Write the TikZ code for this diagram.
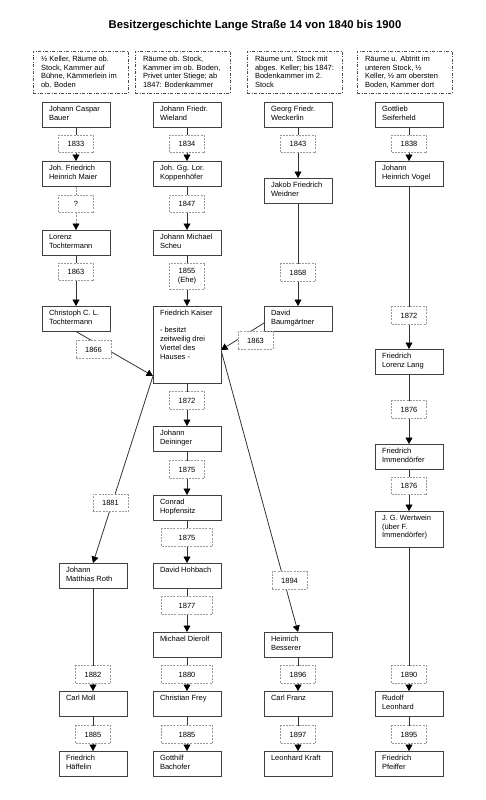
\documentclass[tikz,border=0pt]{standalone}
\usepackage{fontspec}
\setmainfont{Liberation Sans}
\usetikzlibrary{arrows.meta,calc}
\pgfdeclarelayer{bg}
\pgfsetlayers{bg,main}
\newcommand\nbtext[2]{\parbox[c][#1][t]{54pt}{\raggedright\vspace*{3.2pt}\strut#2}}
\newcommand\hdtext[1]{\parbox[c][42pt][t]{79pt}{\raggedright\vspace*{4.6pt}\strut#1}}
\tikzset{
  x=1pt, y=-1pt,
  namebox/.style={draw=black!75, line width=0.8pt, fill=white, anchor=north west,
    inner xsep=7pt, inner ysep=0pt, outer sep=0pt, font=\fontsize{7.5}{8.8}\selectfont},
  yearbox/.style={draw=black!40, line width=0.7pt, dash pattern=on 2pt off 1.2pt, fill=white,
    inner sep=0pt, minimum width=35pt, minimum height=17.5pt, align=center,
    font=\fontsize{7.5}{8.8}\selectfont},
  hdrbox/.style={draw=black!70, line width=0.7pt, dash pattern=on 3pt off 1.5pt on 1pt off 1.5pt,
    anchor=north west, inner xsep=8pt, inner ysep=0pt, outer sep=0pt,
    font=\fontsize{7.5}{8.6}\selectfont},
  conn/.style={draw=black!80, line width=0.8pt, -{Triangle[width=7pt,length=6.5pt,color=black,fill=black]}},
  dconn/.style={conn, draw=black!45, dash pattern=on 2pt off 1.2pt},
}
\begin{document}
\begin{tikzpicture}
\useasboundingbox (0,0) rectangle (486,800);
\node[font=\bfseries\fontsize{11.3}{13}\selectfont] (title) at (255,26) {Besitzergeschichte Lange Straße 14 von 1840 bis 1900};

% header boxes
\node[hdrbox] (h1) at (33,51) {\hdtext{½ Keller, Räume ob.\\Stock, Kammer auf\\Bühne, Kämmerlein im\\ob. Boden}};
\node[hdrbox] (h2) at (135,51) {\hdtext{Räume ob. Stock,\\Kammer im ob. Boden,\\Privet unter Stiege; ab\\1847: Bodenkammer}};
\node[hdrbox] (h3) at (247,51) {\hdtext{Räume unt. Stock mit\\abges. Keller; bis 1847:\\Bodenkammer im 2.\\Stock}};
\node[hdrbox] (h4) at (357,51) {\hdtext{Räume u. Abtritt im\\unteren Stock, ½\\Keller, ½ am obersten\\Boden, Kammer dort}};

% column 1
\node[namebox] (n11) at (42,102) {\nbtext{25.5pt}{Johann Caspar\\Bauer}};
\node[yearbox] (y11) at (76,144) {1833};
\node[namebox] (n12) at (42,161) {\nbtext{25.5pt}{Joh. Friedrich\\Heinrich Maier}};
\node[yearbox] (y12) at (76,204) {?};
\node[namebox] (n13) at (42,230) {\nbtext{25.5pt}{Lorenz\\Tochtermann}};
\node[yearbox] (y13) at (76,272) {1863};
\node[namebox] (n14) at (42,306) {\nbtext{25.5pt}{Christoph C. L.\\Tochtermann}};
\node[yearbox] (y14) at (93.5,349.5) {1866};
\node[yearbox] (y15) at (110.5,503) {1881};
\node[namebox] (n15) at (59,563) {\nbtext{25.5pt}{Johann\\Matthias Roth}};
\node[yearbox] (y16) at (93,674.5) {1882};
\node[namebox] (n16) at (59,691) {\nbtext{25.5pt}{Carl Moll}};
\node[yearbox] (y17) at (93,734.5) {1885};
\node[namebox] (n17) at (59,751) {\nbtext{25.5pt}{Friedrich\\Häffelin}};

% column 2
\node[namebox] (n21) at (153,102) {\nbtext{25.5pt}{Johann Friedr.\\Wieland}};
\node[yearbox] (y21) at (187,144) {1834};
\node[namebox] (n22) at (153,161) {\nbtext{25.5pt}{Joh. Gg. Lor.\\Koppenhöfer}};
\node[yearbox] (y22) at (187,204) {1847};
\node[namebox] (n23) at (153,230) {\nbtext{25.5pt}{Johann Michael\\Scheu}};
\node[yearbox, minimum height=26pt] (y23) at (187,276) {1855\\(Ehe)};
\node[namebox] (n24) at (153,306) {\nbtext{77pt}{Friedrich Kaiser\\ \mbox{}\\- besitzt\\zeitweilig drei\\Viertel des\\Hauses -}};
\node[yearbox] (y24) at (187,400.5) {1872};
\node[namebox] (n25) at (153,426) {\nbtext{25.5pt}{Johann\\Deininger}};
\node[yearbox] (y25) at (187,469.5) {1875};
\node[namebox] (n26) at (153,495) {\nbtext{25.5pt}{Conrad\\Hopfensitz}};
\node[yearbox, minimum width=51pt] (y26) at (187,537.5) {1875};
\node[namebox] (n27) at (153,563) {\nbtext{25.5pt}{David Hohbach}};
\node[yearbox, minimum width=51pt] (y27) at (187,605.5) {1877};
\node[namebox] (n28) at (153,632) {\nbtext{25.5pt}{Michael Dierolf}};
\node[yearbox, minimum width=51pt] (y28) at (187,674.5) {1880};
\node[namebox] (n29) at (153,691) {\nbtext{25.5pt}{Christian Frey}};
\node[yearbox, minimum width=51pt] (y29) at (187,734.5) {1885};
\node[namebox] (n2a) at (153,751) {\nbtext{25.5pt}{Gotthilf\\Bachofer}};

% column 3
\node[namebox] (n31) at (264,102) {\nbtext{25.5pt}{Georg Friedr.\\Weckerlin}};
\node[yearbox] (y31) at (298,144) {1843};
\node[namebox] (n32) at (264,178) {\nbtext{25.5pt}{Jakob Friedrich\\Weidner}};
\node[yearbox] (y32) at (298,272.5) {1858};
\node[namebox] (n33) at (264,306) {\nbtext{25.5pt}{David\\Baumgärtner}};
\node[yearbox] (y33) at (255.5,340.5) {1863};
\node[yearbox] (y34) at (289.5,580.5) {1894};
\node[namebox] (n34) at (264,632) {\nbtext{25.5pt}{Heinrich\\Besserer}};
\node[yearbox] (y35) at (298,674.5) {1896};
\node[namebox] (n35) at (264,691) {\nbtext{25.5pt}{Carl Franz}};
\node[yearbox] (y36) at (298,734.5) {1897};
\node[namebox] (n36) at (264,751) {\nbtext{25.5pt}{Leonhard Kraft}};

% column 4
\node[namebox] (n41) at (375,102) {\nbtext{25.5pt}{Gottlieb\\Seiferheld}};
\node[yearbox] (y41) at (409,144) {1838};
\node[namebox] (n42) at (375,161) {\nbtext{25.5pt}{Johann\\Heinrich Vogel}};
\node[yearbox] (y42) at (409,315.5) {1872};
\node[namebox] (n43) at (375,349) {\nbtext{25.5pt}{Friedrich\\Lorenz Lang}};
\node[yearbox] (y43) at (409,409.5) {1876};
\node[namebox] (n44) at (375,444) {\nbtext{25.5pt}{Friedrich\\Immendörfer}};
\node[yearbox] (y44) at (409,486) {1876};
\node[namebox] (n45) at (375,511) {\nbtext{36pt}{J. G. Wertwein\\(über F.\\Immendörfer)}};
\node[yearbox] (y45) at (409,674.5) {1890};
\node[namebox] (n46) at (375,691) {\nbtext{25.5pt}{Rudolf\\Leonhard}};
\node[yearbox] (y46) at (409,734.5) {1895};
\node[namebox] (n47) at (375,751) {\nbtext{25.5pt}{Friedrich\\Pfeiffer}};

\coordinate (kl) at ($(n24.north west)+(0,70)$);
\coordinate (kr) at ($(n24.north east)+(0,44)$);
\coordinate (bl) at ($(n33.north west)+(0,17)$);

\begin{pgfonlayer}{bg}
\draw[conn] (n11.south) -- (n12.north);
\draw[dconn] (n12.south) -- (n13.north);
\draw[conn] (n13.south) -- (n14.north);
\draw[conn] (n14.south) -- (kl);
\draw[conn] (kl) -- (n15.north);
\draw[conn] (n15.south) -- (n16.north);
\draw[conn] (n16.south) -- (n17.north);

\draw[conn] (n21.south) -- (n22.north);
\draw[conn] (n22.south) -- (n23.north);
\draw[conn] (n23.south) -- (n24.north);
\draw[conn] (n24.south) -- (n25.north);
\draw[conn] (n25.south) -- (n26.north);
\draw[conn] (n26.south) -- (n27.north);
\draw[conn] (n27.south) -- (n28.north);
\draw[conn] (n28.south) -- (n29.north);
\draw[conn] (n29.south) -- (n2a.north);

\draw[conn] (n31.south) -- (n32.north);
\draw[conn] (n32.south) -- (n33.north);
\draw[conn] (bl) -- (kr);
\draw[conn] (kr) -- (n34.north);
\draw[conn] (n34.south) -- (n35.north);
\draw[conn] (n35.south) -- (n36.north);

\draw[conn] (n41.south) -- (n42.north);
\draw[conn] (n42.south) -- (n43.north);
\draw[conn] (n43.south) -- (n44.north);
\draw[conn] (n44.south) -- (n45.north);
\draw[conn] (n45.south) -- (n46.north);
\draw[conn] (n46.south) -- (n47.north);
\end{pgfonlayer}
\end{tikzpicture}
\end{document}
